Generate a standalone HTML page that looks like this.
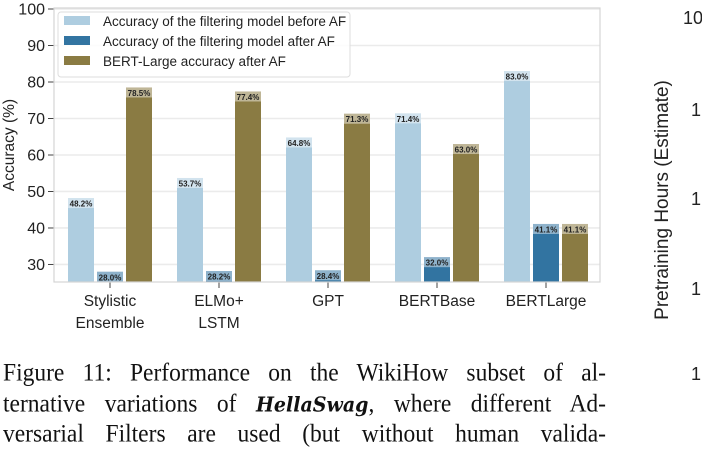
<!DOCTYPE html>
<html><head><meta charset="utf-8"><style>
body{margin:0;width:702px;height:448px;background:#fff;overflow:hidden;position:relative;font-family:"Liberation Sans",sans-serif}
.cap{position:absolute;left:3px;width:603px;font-family:"Liberation Serif",serif;font-size:23.5px;color:#111;text-align:justify;text-align-last:justify;white-space:nowrap;line-height:28px;transform:scaleY(1.08);transform-origin:0 0}
.hs{font-family:"DejaVu Serif",serif;font-style:italic;font-weight:bold;font-size:19px}
</style></head><body>
<svg id="chart" width="702" height="345" style="position:absolute;left:0;top:0" font-family="Liberation Sans, sans-serif"></svg>
<div class="cap" style="top:358px">Figure 11: Performance on the WikiHow subset of al-</div>
<div class="cap" style="top:389px">ternative variations of <span class="hs">HellaSwag</span>, where different Ad-</div>
<div class="cap" style="top:419px">versarial Filters are used (but without human valida-</div>
<script>
const categories=[["Stylistic","Ensemble"],["ELMo+","LSTM"],["GPT"],["BERTBase"],["BERTLarge"]];
const beforeAF=[48.2,53.7,64.8,71.4,83.0];
const afterAF=[28.0,28.2,28.4,32.0,41.1];
const bertLargeAF=[78.5,77.4,71.3,63.0,41.1];
const yTicks=[30,40,50,60,70,80,90,100];
const seriesNames=["Accuracy of the filtering model before AF","Accuracy of the filtering model after AF","BERT-Large accuracy after AF"];
const colors=["#aecde0","#3274a1","#8a7b43"];
const NS="http://www.w3.org/2000/svg";
const svg=document.getElementById('chart');
const L=54,R=600,T=9,B=282,ymin=25.2,ymax=100;
function y(v){return T+(ymax-v)*(B-T)/(ymax-ymin);}
function xc(i){return 110+i*109;}
function mk(tag,attrs,parent){const e=document.createElementNS(NS,tag);for(const k in attrs)e.setAttribute(k,attrs[k]);(parent||svg).appendChild(e);return e;}
yTicks.forEach(t=>{
  const g=mk('line',{x1:L,x2:R,y1:y(t),y2:y(t),stroke:'#ebebeb','stroke-width':1.6});
  
  
  mk('line',{x1:L-6,x2:L,y1:y(t),y2:y(t),stroke:'#444','stroke-width':1});
  const tx=mk('text',{x:L-9,y:y(t)+5.5,'text-anchor':'end','font-size':16,fill:'#222'});
  tx.textContent=t;
  
  
});
const series=[beforeAF,afterAF,bertLargeAF];
const bw=26,step=29;
categories.forEach((c,i)=>{
  series.forEach((s,j)=>{
    const x0=xc(i)+(j-1)*step-bw/2, top=y(s[i]);
    const r=mk('rect',{x:x0,y:top,width:bw,height:B-top,fill:colors[j]});
    
    
    mk('rect',{x:x0,y:top,width:bw,height:10,fill:'#fff','fill-opacity':0.45});
    const t=mk('text',{x:x0+bw/2,y:top+8.5,'text-anchor':'middle','font-size':8,'font-weight':'bold',fill:'#222'});
    t.textContent=s[i].toFixed(1)+'%';
    
    
  });
  mk('line',{x1:xc(i),x2:xc(i),y1:B,y2:B+6,stroke:'#444','stroke-width':1});
  c.forEach((ln,k)=>{
    const t=mk('text',{x:xc(i),y:306+k*22,'text-anchor':'middle','font-size':15.5,fill:'#222'});
    t.textContent=ln;
    
    
  });
});
const fr=mk('rect',{x:L,y:T-1,width:R-L,height:B-T+1,fill:'none',stroke:'#d4d4d4','stroke-width':1.2});


const yl=mk('text',{x:0,y:0,transform:'translate(14,145) rotate(-90)','text-anchor':'middle','font-size':15.5,fill:'#222'});
yl.textContent='Accuracy (%)';


const lg=mk('rect',{x:58,y:12,width:292,height:65,rx:3,fill:'#fff','fill-opacity':0.85,stroke:'#ddd'});


seriesNames.forEach((n,j)=>{
  mk('rect',{x:64,y:16+j*20,width:26,height:9,fill:colors[j]});
  const t=mk('text',{x:103,y:26+j*20,'font-size':13.5,fill:'#222'});
  t.textContent=n;
  
  
});
const rl=mk('text',{x:0,y:0,transform:'translate(668,200) rotate(-90)','text-anchor':'middle','font-size':19,fill:'#222'});
rl.textContent='Pretraining Hours (Estimate)';


[["10",24],["1",116],["1",205],["1",295]].forEach(([s,yy])=>{
  const t=mk('text',{x:s=="10"?683:691,y:yy,'font-size':18,fill:'#222'});
  t.textContent=s;
  
  
});
</script>
<div style="position:absolute;left:691px;top:364px;font-size:18px;color:#222">1</div>
</body></html>
